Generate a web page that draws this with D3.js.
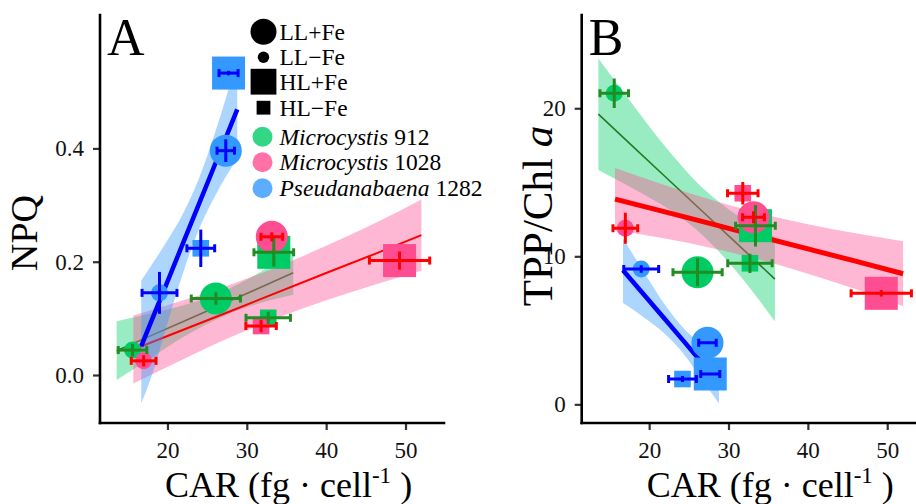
<!DOCTYPE html>
<html><head><meta charset="utf-8">
<script src="https://cdn.jsdelivr.net/npm/d3@7"></script>
<style>
body{margin:0;background:#fff}
svg{display:block}
text{font-family:"Liberation Serif","Times New Roman",serif;white-space:pre}
</style>
</head><body>
<svg id="c" width="916" height="504"></svg>
<script>
// ---------- data ----------
const strains = ["Microcystis 912", "Microcystis 1028", "Pseudanabaena 1282"];
const conditions = ["LL+Fe", "LL\u2212Fe", "HL+Fe", "HL\u2212Fe"];
const rowStrain = [0,0,0,0, 1,1,1,1, 2,2,2,2];
const rowCond   = [0,1,2,3, 0,1,2,3, 0,1,2,3];
const car     = [26.1, 15.6, 33.4, 32.7,  33.15, 17.0, 49.25, 31.8,  27.35, 19.0, 27.7, 24.2];
const carErr  = [3.1, 1.8, 2.5, 2.8,      1.37, 1.56, 3.8, 1.92,     1.1, 2.2, 1.2, 1.75];
const npq     = [0.135, 0.044, 0.2166, 0.101,  0.244, 0.025, 0.202, 0.0865,  0.396, 0.145, 0.533, 0.2237];
const npqErr  = [0.011, 0.011, 0.025, 0.011,   0.008, 0.010, 0.016, 0.011,   0.020, 0.037, 0.004, 0.033];
const tpp     = [8.92, 21.01, 12.07, 9.53,  12.64, 11.89, 7.5, 14.26,  4.16, 9.14, 2.05, 1.71];
const tppErr  = [0.95, 1.0, 1.4, 0.65,      0.4, 1.05, 0.22, 0.76,     0.05, 0.25, 0.05, 0.2];

// linear fits with confidence bands (per strain)
const fitX   = [[13.6, 18, 22, 27, 31, 35.85],
                [15.7, 22, 28, 33, 40, 46, 52.0],
                [16.7, 18, 20, 22, 24, 26, 28.8]];
const npqFit = [[0.043, 0.070, 0.0946, 0.1255, 0.150, 0.1805],
                [0.045, 0.080, 0.113, 0.141, 0.180, 0.213, 0.247],
                [0.051, 0.096, 0.165, 0.234, 0.303, 0.372, 0.469]];
const npqLo  = [[-0.009, 0.031, 0.067, 0.1035, 0.124, 0.1415],
                [-0.015, 0.028, 0.067, 0.096, 0.132, 0.159, 0.184],
                [-0.05, -0.002, 0.092, 0.182, 0.258, 0.316, 0.382]];
const npqHi  = [[0.095, 0.109, 0.123, 0.1475, 0.176, 0.2195],
                [0.105, 0.132, 0.160, 0.186, 0.228, 0.267, 0.310],
                [0.167, 0.194, 0.238, 0.286, 0.348, 0.428, 0.556]];
const tppFit = [[19.6, 17.39, 15.39, 12.89, 10.89, 8.46],
                [13.86, 13.0, 12.17, 11.47, 10.5, 9.67, 8.82],
                [9.05, 8.24, 6.99, 5.74, 4.49, 3.24, 1.49]];
const tppLo  = [[15.83, 14.57, 13.34, 11.29, 8.98, 5.6],
                [11.76, 11.2, 10.55, 9.9, 8.83, 7.79, 6.62],
                [6.85, 6.39, 5.61, 4.76, 3.64, 2.19, 0.05]];
const tppHi  = [[23.37, 20.21, 17.44, 14.49, 12.8, 11.3],
                [15.96, 14.8, 13.79, 13.04, 12.17, 11.55, 11.02],
                [11.2, 10.09, 8.37, 6.72, 5.34, 4.29, 2.95]];

const xTicks = [20, 30, 40, 50];
const npqTicks = [0, 0.2, 0.4];
const tppTicks = [0, 10, 20];

// ---------- styles ----------
const pointFill = ["#00CC66", "#FF4D91", "#3399FF"];
const barColor  = ["#228B22", "#FF0000", "#0000FF"];
const lineColor = ["#237A23", "#FF0000", "#0000FF"];
const lineWidthA = [1.6, 2, 4.5];
const lineWidthB = [1.6, 5, 4.6];
const condShape = ["circle", "circle", "square", "square"];
const condHalf  = [16, 8.5, 16.5, 8.3];

const svg = d3.select("#c");
const xDomain = [11.5, 54.85];
const plotTop = 15, plotBottom = 423;

function panel(x0, yDomain, yv, ye, fit, lo, hi, lw, yTicks, yFmt, letter, ytitle) {
  const g = svg.append("g");
  const x = d3.scaleLinear().domain(xDomain).range([x0, x0 + 344]);
  const y = d3.scaleLinear().domain(yDomain).range([plotBottom, plotTop]);
  const clipId = "clip" + letter;
  svg.append("clipPath").attr("id", clipId).append("rect")
    .attr("x", x0).attr("y", plotTop).attr("width", 344).attr("height", plotBottom - plotTop);
  const plot = g.append("g").attr("clip-path", `url(#${clipId})`);

  // bands + lines per strain
  strains.forEach((s, k) => {
    const pts = fitX[k].map((xx, i) => ({x: xx, f: fit[k][i], lo: lo[k][i], hi: hi[k][i]}));
    plot.append("path").datum(pts)
      .attr("d", d3.area().x(d => x(d.x)).y0(d => y(d.lo)).y1(d => y(d.hi)).curve(d3.curveMonotoneX))
      .attr("fill", pointFill[k]).attr("fill-opacity", 0.4);
    plot.append("path").datum(pts)
      .attr("d", d3.line().x(d => x(d.x)).y(d => y(d.f)))
      .attr("fill", "none").attr("stroke", lineColor[k]).attr("stroke-width", lw[k]);
  });

  // points
  const idx = d3.range(car.length);
  idx.forEach(i => {
    const k = rowStrain[i], c = rowCond[i];
    const cx = x(car[i]), cy = y(yv[i]), h = condHalf[c];
    if (condShape[c] === "circle") {
      plot.append("circle").attr("cx", cx).attr("cy", cy).attr("r", h).attr("fill", pointFill[k]);
    } else {
      plot.append("rect").attr("x", cx - h).attr("y", cy - h).attr("width", 2 * h).attr("height", 2 * h).attr("fill", pointFill[k]);
    }
  });
  // error bars
  idx.forEach(i => {
    const k = rowStrain[i];
    const cx = x(car[i]), cy = y(yv[i]);
    const xl = x(car[i] - carErr[i]), xr = x(car[i] + carErr[i]);
    const yt = y(yv[i] + ye[i]), yb = y(yv[i] - ye[i]);
    const eb = plot.append("g").attr("stroke", barColor[k]).attr("stroke-width", 3).attr("fill", "none");
    eb.append("line").attr("x1", cx).attr("x2", cx).attr("y1", yt).attr("y2", yb);
    eb.append("line").attr("x1", xl).attr("x2", xr).attr("y1", cy).attr("y2", cy);
    eb.append("line").attr("x1", xl).attr("x2", xl).attr("y1", cy - 4).attr("y2", cy + 4);
    eb.append("line").attr("x1", xr).attr("x2", xr).attr("y1", cy - 4).attr("y2", cy + 4);
  });

  // axes
  const ax = g.append("g").attr("transform", `translate(0,${plotBottom})`)
    .call(d3.axisBottom(x).tickValues(xTicks).tickSize(7).tickPadding(12).tickFormat(d3.format("d")));
  const ay = g.append("g").attr("transform", `translate(${x0},0)`)
    .call(d3.axisLeft(y).tickValues(yTicks).tickSize(7).tickPadding(9).tickFormat(yFmt));
  [ax, ay].forEach(a => {
    a.attr("font-family", null);
    a.select(".domain").remove();
    a.selectAll(".tick line").attr("stroke", "#333").attr("stroke-width", 2.2);
    a.selectAll(".tick text").attr("font-family", "Liberation Serif").attr("font-size", 23).attr("fill", "#111");
  });
  g.append("line").attr("x1", x0).attr("x2", x0).attr("y1", plotTop).attr("y2", plotBottom)
    .attr("stroke", "#000").attr("stroke-width", 2.6).attr("stroke-linecap", "square");
  g.append("line").attr("x1", x0).attr("x2", x0 + 344).attr("y1", plotBottom).attr("y2", plotBottom)
    .attr("stroke", "#000").attr("stroke-width", 2.6).attr("stroke-linecap", "square");

  // panel letter
  g.append("text").attr("x", x0 + 7).attr("y", 55).attr("font-size", 52).text(letter);

  // x title
  const xt = g.append("text").attr("x", x0 + 65).attr("y", 497).attr("font-size", 36);
  xt.append("tspan").text("CAR (fg \u00B7 cell");
  xt.append("tspan").attr("font-size", 23).attr("dy", -14).text("-1");
  xt.append("tspan").attr("dy", 14).text(" )");

  // y title
  ytitle(g);
  return {x, y, g};
}

panel(100, [-0.0847, 0.6355], npq, npqErr, npqFit, npqLo, npqHi, lineWidthA, npqTicks, d3.format(".1f"), "A",
  g => g.append("text").attr("transform", "translate(37,233) rotate(-90)").attr("text-anchor", "middle")
        .attr("font-size", 38).text("NPQ"));
panel(581.7, [-1.26, 26.3], tpp, tppErr, tppFit, tppLo, tppHi, lineWidthB, tppTicks, d3.format("d"), "B",
  g => {
    const t = g.append("text").attr("transform", "translate(552,216) rotate(-90)").attr("text-anchor", "middle")
      .attr("font-size", 43);
    t.append("tspan").text("TPP/Chl ");
    t.append("tspan").attr("font-style", "italic").text("a");
  });

// ---------- legend ----------
const leg = svg.append("g");
const legX = 263.5, textX = 279.5;
const shapeRowsY = [31.7, 57.3, 81.7, 107.7];
const legHalf = [13, 5.7, 12.9, 6.9];
conditions.forEach((c, i) => {
  const cy = shapeRowsY[i], h = legHalf[i];
  if (condShape[i] === "circle") leg.append("circle").attr("cx", legX).attr("cy", cy).attr("r", h).attr("fill", "#000");
  else leg.append("rect").attr("x", legX - h).attr("y", cy - h).attr("width", 2 * h).attr("height", 2 * h).attr("fill", "#000");
  leg.append("text").attr("x", textX).attr("y", cy).attr("dy", "0.34em").attr("font-size", 23.5).text(c);
});
const colorRowsY = [136.7, 162.3, 188.3];
strains.forEach((s, k) => {
  const cy = colorRowsY[k];
  leg.append("circle").attr("cx", legX - 1).attr("cy", cy).attr("r", 10).attr("fill", pointFill[k]).attr("fill-opacity", 0.8);
  const parts = s.split(" ");
  const t = leg.append("text").attr("x", textX).attr("y", cy).attr("dy", "0.34em").attr("font-size", 23.5);
  t.append("tspan").attr("font-style", "italic").text(parts[0]);
  t.append("tspan").text(" " + parts[1]);
});
</script>
</body></html>
